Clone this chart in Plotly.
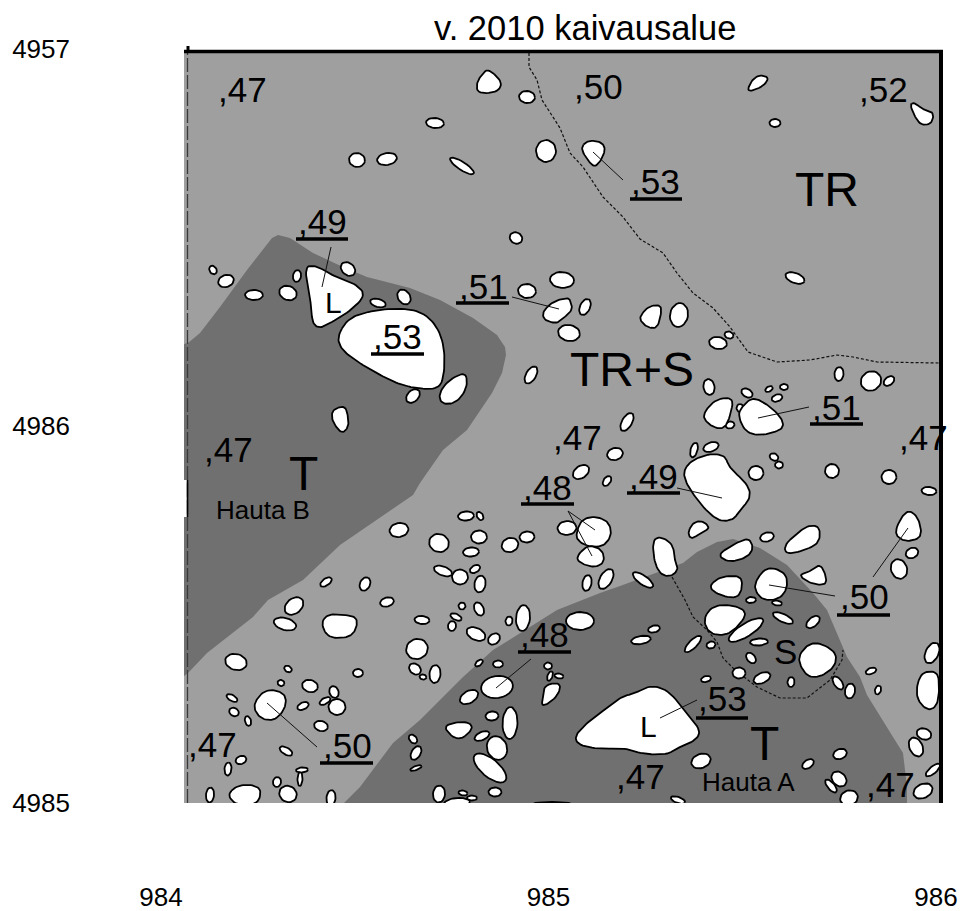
import math
import plotly.graph_objects as go

# Survey grid: map units per metre, and grid origin
UNITS_E, UNITS_N = 378.5, 377.0
ORIGIN_E, ORIGIN_N = 984, 4985

x_ticks = [984, 985, 986]
x_tick_text = ["984", "985", "986"]
y_ticks = [4985, 4986, 4987]
y_tick_text = ["4985", "4986", "4957"]

title_text = "v. 2010 kaivausalue"

# Soil zones (east, north in map units from the grid origin)
zone_grave_b = [(-3,459),(1,460),(13,470),(33,496),(60,533),(85,565),(91,568),(103,565),(126,550),(156,536),
                (180,526),(223,515),(253,503),(286,485),(310,468),(318,456),(319,448),(315,430),(305,410),
                (280,373),(256,353),(233,320),(226,308),(193,285),(153,258),(116,223),(81,203),(66,186),
                (20,150),(1,130),(-3,127)]
zone_grave_a = [(156,-1),(173,16),(206,60),(233,83),(276,126),(306,153),(370,193),(413,210),(433,217),(466,229),
                (496,240),(510,251),(530,261),(546,264),(573,255),(600,238),(626,210),(640,193),(650,170),
                (660,146),(673,126),(680,108),(706,66),(716,50),(720,16),(720,-1)]

# Dotted boundaries
boundary_tr = [(342,750),(342,736),(350,723),(355,703),(373,675),(383,650),(396,636),(416,606),(436,586),(453,564),
               (476,550),(490,530),(506,510),(526,495),(543,476),(561,451),(590,441),(623,443),(650,448),(666,446),
               (690,441),(752,440)]
boundary_s = [(485,226),(498,203),(506,186),(520,173),(530,161),(536,145),(548,133),(570,116),(593,105),(620,105),
              (643,123),(655,143),(656,153)]

# Leader lines from level labels to stones
leaders = [[(406,651),(436,623)],[(144,556),(135,516)],[(325,506),(372,494)],[(571,385),(622,396)],
           [(490,315),(535,305)],[(408,273),(381,292),(405,247)],[(721,275),(686,226)],[(582,218),(648,207)],
           [(344,144),(309,115)],[(510,103),(473,85)],[(80,100),(130,56)]]

# Large stones: outlines as read from the plan
large_stones = [
 [(301,734),(315,721),(310,711),(291,710),(290,720),(295,728)],
 [(118,535),(130,536),(146,526),(163,521),(178,509),(163,493),(143,481),(133,476),(126,481),(125,500)],
 [(153,466),(163,483),(183,490),(210,493),(233,490),(248,476),(255,456),(255,430),(250,416),(231,416),(213,420),(200,426),(183,435),(166,446),(156,455)],
 [(278,431),(280,416),(270,401),(256,399),(252,408),(260,421)],
 [(146,393),(158,397),(161,385),(161,376),(155,370),(148,378),(145,385)],
 [(356,491),(366,501),(381,505),(383,501),(385,493),(376,485),(370,480),(358,483)],
 [(453,486),(461,496),(473,498),(474,490),(470,475),(461,476),(455,481)],
 [(560,711),(565,723),(573,728),(582,725),(575,716)],
 [(723,698),(728,700),(736,693),(746,691),(745,681),(738,678),(731,681)],
 [(394,655),(401,662),(413,661),(418,655),(415,645),(408,636),(401,643)],
 [(516,388),(528,403),(546,405),(543,388),(538,376),(530,375),(521,380)],
 [(552,388),(556,396),(566,405),(580,398),(593,386),(596,376),(586,371),(570,368),(558,373)],
 [(135,180),(141,188),(153,188),(169,186),(169,175),(163,167),(150,165),(140,168)],
 [(67,98),(75,110),(86,113),(98,108),(98,96),(90,85),(80,83),(71,88)],
 [(41,8),(50,17),(65,18),(74,13),(70,-1),(50,-2)],
 [(358,118),(374,120),(370,106),(355,96),(356,106)],
 [(256,76),(270,81),(283,80),(285,73),(271,62)],
 [(498,331),(505,341),(523,348),(538,346),(541,335),(560,318),(562,305),(551,293),(546,285),(533,283),(520,293),(508,308),(500,321)],
 [(709,273),(715,286),(722,292),(730,286),(734,273),(732,265),(720,262),(711,266)],
 [(501,270),(506,280),(515,282),(523,275),(513,270),(505,264)],
 [(598,258),(611,270),(621,277),(632,276),(632,261),(620,254),(600,249)],
 [(531,248),(546,258),(561,265),(566,255),(560,246),(543,241)],
 [(466,261),(473,266),(486,258),(487,243),(491,236),(486,228),(475,228),(468,240)],
 [(390,270),(395,283),(408,286),(421,281),(424,268),(416,257),(401,257),(391,263)],
 [(389,245),(401,258),(415,253),(417,241),(408,236),(396,239)],
 [(522,216),(533,226),(553,227),(555,216),(550,205),(533,208)],
 [(568,220),(580,236),(598,230),(600,216),(593,205),(578,203),(570,210)],
 [(612,228),(623,231),(633,239),(639,226),(638,218),(623,220)],
 [(517,183),(525,196),(543,198),(560,191),(550,176),(538,168),(523,170)],
 [(612,146),(620,157),(631,160),(648,151),(648,138),(636,128),(623,126),(615,135)],
 [(730,116),(735,130),(750,131),(752,116),(750,98),(741,93),(731,103)],
 [(390,66),(400,78),(416,90),(435,105),(448,108),(463,116),(480,111),(496,91),(511,73),(506,63),(486,55),(480,50),(456,50),(440,56),(416,55),(396,58)],
]

# Smaller stones: east, north, half length, half width, tilt in degrees
small_stones = [
 (340,706,8,6,-5),(248,680,9,5,-5),(170,643,8,7,-10),(200,644,10,6,10),(275,637,14,4,-33),(359,652,11,10,90),
 (329,565,6.5,5.5,-30),(26,533,4.5,3.5,-60),(39,522,8,6,20),(67,508,9,5,0),(101,510,9,7,-20),(110,527,6,4,80),
 (161,534,8,6,-40),(191,500,8,4,-15),(217,506,8,6,-55),(226,407,8,5.5,45),(344,428,9.5,5,60),(340,512,9,7,-5),
 (375,523,12,8,-5),(382,470,11,8,-10),(398,496,8.5,5,65),(492,488,12,9,80),(531,460,9,6,-10),(542,468,4.5,3.5,-20),
 (588,680,5.5,4,0),(608,525,10,5,-20),(522,416,8,5.5,-80),(560,410,6,4,-30),(582,414,4,2.5,30),(597,416,4,3,0),
 (590,405,5.5,3.5,20),(652,429,7,4.5,85),(684,422,10.5,9.5,30),(702,422,6,4,40),(543,378,4.5,3.5,10),(553,395,4,3.5,90),
 (440,381,10,5,60),
 (212,273,9.5,7,10),(279,287,8,4.5,5),(293,287,4.5,3,-60),(252,260,10,9,-20),(292,266,8,6.5,0),(284,251,8,4.5,5),
 (323,258,8.5,7,20),(340,266,7.5,5.5,5),(256,232,9.5,4.5,-20),(273,226,8,7.5,0),(288,234,5.5,3.5,30),(293,219,8.5,5.5,80),
 (139,221,6.5,3.5,35),(178,219,7,5,65),(200,201,7,4.5,15),(107,197,10.5,7.5,40),(98,179,11.5,6,-15),(235,183,7.5,4,-5),
 (275,197,3.5,3.5,0),(292,194,7,4.5,-65),(269,186,6,3,-25),(265,177,5,4,80),(289,169,10,6,-25),(307,164,6.5,5,40),
 (322,182,4.5,3.5,80),(336,185,13,7,85),(230,154,11,10,20),(228,134,6.5,5,-40),(236,126,3.5,2.5,-10),(248,129,9,5.5,85),
 (292,140,4.5,2.5,40),(311,139,5,3.5,0),(49,141,11,8,-15),(101,134,4,3,-30),(171,130,5,4,0),(94,120,3.5,3,-20),
 (123,117,8,6,-15),(45,105,6,3,-30),(47,91,5,4,-30),(61,82,5,3,-75),(116,97,6,3.5,25),(138,102,6,3,30),(147,111,6,4.5,-70),
 (150,96,8.5,8,0),(134,77,7,5,-15),(99,52,7,3.5,-30),(54,43,5.5,4,20),(41,34,6.5,3.5,85),(115,33,6,2.5,5),(113,24,7,2.5,88),
 (90,21,5,4,80),(101,9,9,8,-30),(23,8,7.5,4,85),(144,5,8,4.5,85),
 (310,116,16,11,8),(282,106,10,6,30),(361,137,4,3.5,0),(372,127,4.5,2.5,-10),(363,127,5,2.5,70),(305,87,6.5,4.5,5),
 (323,80,16,7.5,88),(295,67,8,4,25),(310,55,12,10,-70),(303,35,20,9,-40),(226,64,5,3.5,-50),(229,50,7.5,4.5,60),
 (229,35,6,2,20),(252,9,8.5,6,85),(276,10,4.5,2.5,-10),(285,5,5,2.5,0),(308,11,6.5,4.5,0),(270,0,13,5,5),(365,-1,19,2,0),
 (380,275,9.5,7,5),(393,182,14,9,0),
 (428,349,8,6,15),(394,331,9,6,35),(420,322,5.5,3.5,55),(507,353,7.5,3.5,75),(524,356,8,4.5,20),(569,330,7.5,7,0),
 (587,346,4.5,3.5,-30),(592,338,4,3.5,0),(645,332,7,7,-70),(702,326,7.5,7,0),(742,312,7.5,4,-5),(725,250,6.5,5,25),
 (712,234,10,8,-70),(580,266,7,4.5,15),(419,224,11,6,60),(400,220,8,4.5,80),(456,223,12,4.5,-35),(564,203,5,3,5),
 (590,200,5,2.5,-10),(559,173,20,6.5,32),(596,185,11,4,-25),(626,181,8,4.5,40),(572,161,9,3.5,3),(467,174,6,3.5,15),
 (454,163,10,4,10),(506,159,11,4,45),(524,158,4.5,3.5,15),(564,145,6,4,-50),(552,130,6.5,5.5,0),(575,125,9,5,25),
 (604,121,5,3.5,85),(651,120,7.5,4,-55),(663,112,7.5,5,80),(684,132,5.5,3,20),(691,113,4.5,3,75),(745,150,11,6.5,65),
 (519,124,5,3,15),(514,42,10,7,20),(621,39,6.5,4,35),(653,49,7,5,20),(737,69,7.5,5.5,-20),(729,56,10,6.5,-65),
 (746,33,9,3.5,40),(736,12,10,7,25),(652,24,8.5,6.5,-45),(644,17,8,3.5,-50),(662,5,9,7.5,20),(491,3,7.5,3,-20),
]

# Level labels and soil codes: text, east, north
level_labels = [(",47",55,714),(",50",411,717),(",52",696,714),(",53",468,622),(",49",135,582),(",51",296,517),
                (",53",210,467),(",51",649,396),(",47",736,366),(",47",390,366),(",47",41,354),(",48",360,316),
                (",49",466,327),(",50",677,207),(",48",357,169),(",53",535,105),(",47",25,59),(",50",160,58),
                (",47",453,27),(",47",703,19)]
code_labels = [("TR",640,614),("TR+S",445,434),("T",116,330),("T",577,60)]
stone_letters = [("L",146,501,30),("L",461,77,30),("S",598,152,35)]
grave_names = [("Hauta B",76,293),("Hauta A",561,21)]
underlines = [(443,495,604),(109,161,564),(269,322,500),(184,237,449),(623,676,379),(334,387,299),(440,493,310),
              (650,703,188),(331,384,151),(509,561,85),(133,186,40)]

LIGHT, DARK = "#9f9f9f", "#707070"
FONT = "Liberation Sans"


def east(u):
    return ORIGIN_E + u / UNITS_E


def north(v):
    return ORIGIN_N + v / UNITS_N


def path(points):
    return [east(p[0]) for p in points], [north(p[1]) for p in points]


def ellipse(u, v, a, b, tilt):
    t = math.radians(tilt)
    pts = []
    for k in range(25):
        w = 2 * math.pi * k / 24
        pts.append((u + a * math.cos(w) * math.cos(t) - b * math.sin(w) * math.sin(t),
                    v + a * math.cos(w) * math.sin(t) + b * math.sin(w) * math.cos(t)))
    return pts


def rounded(points, rounds=3, grow=1.05):
    """Round the corners of a closed stone outline, keeping its size."""
    cx = sum(p[0] for p in points) / len(points)
    cy = sum(p[1] for p in points) / len(points)
    pts = [(cx + grow * (p[0] - cx), cy + grow * (p[1] - cy)) for p in points]
    for _ in range(rounds):
        out = []
        for i, p in enumerate(pts):
            q = pts[(i + 1) % len(pts)]
            out.append((0.75 * p[0] + 0.25 * q[0], 0.75 * p[1] + 0.25 * q[1]))
            out.append((0.25 * p[0] + 0.75 * q[0], 0.25 * p[1] + 0.75 * q[1]))
        pts = out
    return pts + pts[:1]


fig = go.Figure()


def area(points, color):
    xs, ys = path(points)
    fig.add_trace(go.Scatter(x=xs, y=ys, mode="lines", fill="toself", fillcolor=color,
                             line=dict(width=0, color=color), hoverinfo="skip"))


def stroke(points, color="black", width=1.0, dash=None):
    xs, ys = path(points)
    fig.add_trace(go.Scatter(x=xs, y=ys, mode="lines", hoverinfo="skip",
                             line=dict(color=color, width=width, dash=dash)))


area([(-3, 0), (752, 0), (752, 752), (-3, 752)], LIGHT)
area(zone_grave_b, DARK)
area(zone_grave_a, DARK)

for line_pts in (boundary_tr, boundary_s):
    stroke(line_pts, "#111111", 1.2, "3px,2px")

for s in small_stones:
    xs, ys = path(ellipse(*s))
    fig.add_trace(go.Scatter(x=xs, y=ys, mode="lines", fill="toself", fillcolor="white", hoverinfo="skip",
                             line=dict(color="black", width=1.8)))
for s in large_stones:
    xs, ys = path(rounded(s))
    fig.add_trace(go.Scatter(x=xs, y=ys, mode="lines", fill="toself", fillcolor="white", hoverinfo="skip",
                             line=dict(color="black", width=1.8)))

for leader in leaders:
    stroke(leader, "#111111", 1)

for u0, u1, v in underlines:
    stroke([(u0, v), (u1, v)], "black", 3.5)

# Survey frame: white notch, dashed west edge, heavy north and east edges
area([(-3, 286), (0, 286), (0, 323), (-3, 323)], "white")
stroke([(0.5, 0), (0.5, 752)], "#3a3a3a", 1.3, "14px,3px")
stroke([(0.5, 286), (0.5, 323)], "black", 1.6)
stroke([(-3, 751.5), (756, 751.5)], "black", 3.5)
stroke([(754, 0), (754, 752)], "black", 4)
stroke([(1, 750), (1, 757)], "black", 3)

# Invisible points that tie the tick-label axis to the figure
fig.add_trace(go.Scatter(x=x_ticks, y=[y_ticks[0]] * 3, xaxis="x2", yaxis="y", mode="markers",
                         marker=dict(opacity=0), hoverinfo="skip"))


def label(text, u, v, size):
    fig.add_annotation(x=east(u), y=north(v), text=text, showarrow=False, xanchor="center", yanchor="middle",
                       font=dict(family=FONT, size=size, color="black"))


for t, u, v in level_labels:
    label(t, u, v, 35)
for t, u, v in code_labels:
    label(t, u, v, 48)
for t, u, v, size in stone_letters:
    label(t, u, v, size)
for t, u, v in grave_names:
    label(t, u, v, 26)

fig.add_annotation(x=east(398), y=1, yref="paper", yanchor="bottom", yshift=-3, text=title_text, showarrow=False,
                   xanchor="center", font=dict(family=FONT, size=34.5, color="black"))

# The printed easting labels are spaced a little wider than the plan itself
LABEL_SPACING = 387.5
LABEL_984_OFFSET = -26

fig.update_layout(
    width=960, height=911, autosize=False, showlegend=False,
    paper_bgcolor="white", plot_bgcolor="white",
    margin=dict(l=100, r=2, t=46, b=108, pad=0),
    xaxis=dict(range=[east(-87), east(771)], showticklabels=False, showgrid=False, zeroline=False,
               showline=False, ticks="", automargin=False),
    xaxis2=dict(overlaying="x", side="bottom", anchor="y",
                range=[984 + (-87 - LABEL_984_OFFSET) / LABEL_SPACING, 984 + (771 - LABEL_984_OFFSET) / LABEL_SPACING],
                tickvals=x_ticks, ticktext=x_tick_text, showgrid=False, zeroline=False, showline=False, ticks="",
                ticklabelstandoff=76, automargin=False, tickfont=dict(family=FONT, size=26, color="black")),
    yaxis=dict(range=[north(0), north(757)], tickvals=y_ticks, ticktext=y_tick_text, showgrid=False, zeroline=False,
               showline=False, ticks="", ticklabelstandoff=29, automargin=False,
               tickfont=dict(family=FONT, size=26, color="black")),
)

fig.write_html("out.html", post_script="document.body.style.margin='0';", config=dict(displayModeBar=False))
